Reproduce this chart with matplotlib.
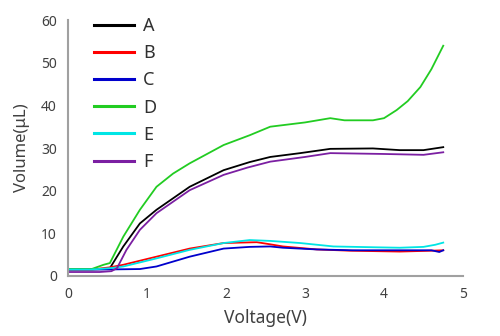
import matplotlib
matplotlib.use("Agg")
import matplotlib.pyplot as plt

plt.rcParams['font.family'] = ['Noto Sans', 'DejaVu Sans']

# Data
vA = [0, 0.3, 0.5, 0.53, 0.70, 0.91, 1.12, 1.54, 1.97, 2.3, 2.56, 2.94, 3.32, 3.86, 4.2, 4.5, 4.75]
A  = [1.5, 1.5, 1.6, 1.8, 6.9, 12.3, 15.5, 20.9, 24.8, 26.7, 27.9, 28.8, 29.8, 29.9, 29.5, 29.5, 30.2]

vB = [0, 0.3, 0.53, 0.70, 1.12, 1.54, 1.97, 2.39, 2.56, 2.72, 3.15, 3.57, 4.2, 4.6, 4.75]
B  = [1.5, 1.5, 2.0, 2.6, 4.5, 6.4, 7.7, 7.9, 7.4, 6.9, 6.2, 5.9, 5.7, 5.9, 6.0]

vC = [0, 0.5, 0.91, 1.12, 1.54, 1.97, 2.3, 2.56, 2.72, 3.15, 3.6, 4.2, 4.6, 4.7, 4.75]
C  = [1.5, 1.5, 1.6, 2.2, 4.5, 6.4, 6.8, 6.9, 6.6, 6.2, 6.0, 6.0, 6.0, 5.6, 6.0]

vD = [0, 0.3, 0.45, 0.53, 0.70, 0.91, 1.12, 1.33, 1.54, 1.97, 2.3, 2.56, 3.0, 3.32, 3.5, 3.86, 4.0, 4.16, 4.3, 4.46, 4.6, 4.75]
D  = [1.6, 1.6, 2.6, 3.0, 9.2, 15.5, 20.9, 24.0, 26.4, 30.7, 33.0, 35.0, 36.0, 37.0, 36.5, 36.5, 37.0, 38.9, 41.0, 44.3, 48.5, 54.0]

vE = [0, 0.3, 0.53, 0.70, 1.12, 1.54, 1.97, 2.30, 2.56, 2.94, 3.36, 3.9, 4.2, 4.5, 4.65, 4.75]
E  = [1.5, 1.5, 1.8, 2.2, 4.1, 6.1, 7.7, 8.4, 8.2, 7.7, 6.9, 6.7, 6.6, 6.8, 7.3, 7.8]

vF = [0, 0.4, 0.55, 0.62, 0.74, 0.91, 1.12, 1.54, 1.97, 2.27, 2.56, 3.0, 3.32, 4.0, 4.5, 4.75]
F  = [0.9, 0.9, 1.1, 1.8, 6.1, 10.8, 14.7, 20.1, 23.7, 25.4, 26.8, 27.9, 28.8, 28.6, 28.4, 29.0]

series = [("A", vA, A, "#000000"), ("B", vB, B, "#ff0000"), ("C", vC, C, "#0000cc"),
          ("D", vD, D, "#22cc22"), ("E", vE, E, "#00e5e5"), ("F", vF, F, "#7b1fa2")]

xticks = [0, 1, 2, 3, 4, 5]
yticks = [0, 10, 20, 30, 40, 50, 60]

fig = plt.figure(figsize=(5.0, 3.36), dpi=100)
ax = fig.add_axes([0.136, 0.179, 0.790, 0.761])

for name, vx, vy, col in series:
    ax.plot(vx, vy, color=col, lw=1.3, label=name)

ax.set_xlim(0, 5)
ax.set_ylim(0, 60)
ax.set_xticks(xticks)
ax.set_yticks(yticks)
ax.tick_params(length=0, labelsize=10, labelcolor="#404040", pad=8)
for s in ("top", "right"):
    ax.spines[s].set_visible(False)
for s in ("left", "bottom"):
    ax.spines[s].set_color("#a0a0a0")
    ax.spines[s].set_linewidth(1.5)

ax.set_xlabel("Voltage(V)", fontsize=12.5, color="#404040", labelpad=5)
ax.set_ylabel("Volume(μL)", fontsize=12, color="#404040", labelpad=8)

leg = ax.legend(loc="upper left", bbox_to_anchor=(0.025, 1.076), frameon=False, fontsize=13,
                handlelength=2.2, handletextpad=0.5, labelspacing=0.51, labelcolor="#303030")
for h in leg.get_lines():
    h.set_linewidth(2.2)

fig.savefig("out.png", dpi=100)
